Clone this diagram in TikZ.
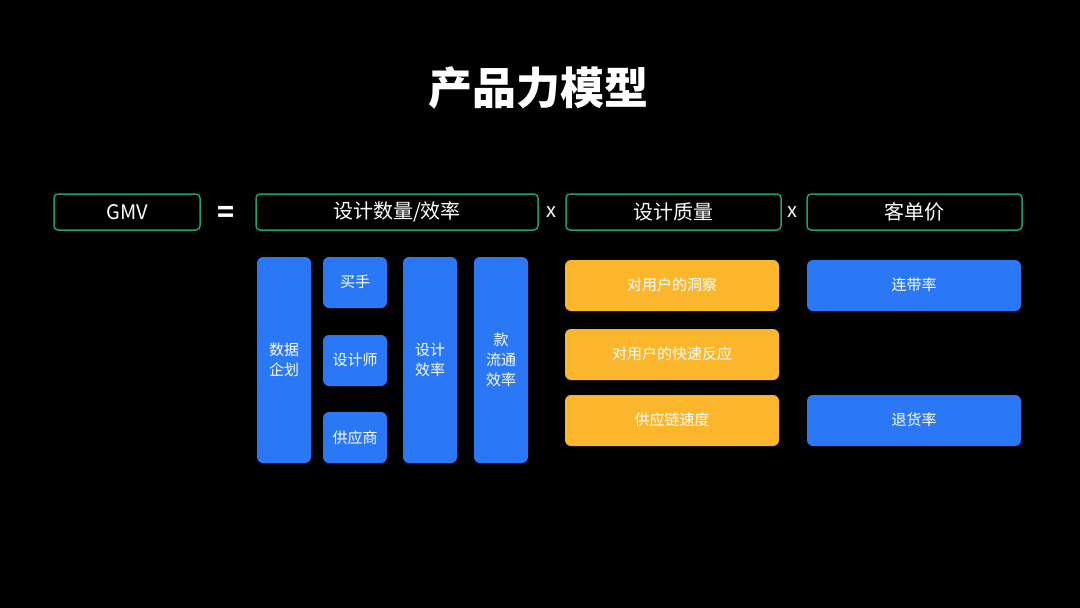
\documentclass[tikz,border=0pt]{standalone}
\usepackage{fontspec}
\setmainfont{Noto Sans CJK SC}
\begin{document}
\begin{tikzpicture}[x=1pt,y=-1pt,
 hdr/.style={draw=hgreen,line width=1.5pt,rounded corners=4pt,fill=black,text=white,font=\fontsize{20}{22}\selectfont},
 bb/.style={fill=bblue,rounded corners=6pt,text=white,font=\fontsize{15}{20}\selectfont,align=center},
 yb/.style={fill=yel,rounded corners=6pt,text=white,font=\fontsize{15}{20}\selectfont,align=center},
 op/.style={text=white,font=\bfseries\fontsize{28}{30}\selectfont}]
\definecolor{hgreen}{HTML}{1E9E7A}
\definecolor{bblue}{HTML}{2A78F6}
\definecolor{yel}{HTML}{FBB62B}
\fill[black] (0,0) rectangle (1080,608);
\useasboundingbox (0,0) rectangle (1080,608);
\node[text=white,font=\bfseries\fontsize{44}{48}\selectfont] (title) at (538,88) {产品力模型};
\path[hdr] (54,194) rectangle (200,230); \node[hdr,draw=none,fill=none] (gmv) at (127,212) {GMV};
\node[op] (eq) at (226,214) {=};
\path[hdr] (256,194) rectangle (538,230); \node[hdr,draw=none,fill=none] (h1) at (397,212) {设计数量/效率};
\node[op,font=\fontsize{20}{22}\selectfont] (x1) at (551,212) {x};
\path[hdr] (566,194) rectangle (781,230); \node[hdr,draw=none,fill=none] (h2) at (673,212) {设计质量};
\node[op,font=\fontsize{20}{22}\selectfont] (x2) at (792,212) {x};
\path[hdr] (807,194) rectangle (1022,230); \node[hdr,draw=none,fill=none] (h3) at (914,212) {客单价};
\path[bb] (257,257) rectangle (311,463); \node[bb,fill=none] (a1) at (284,360) {数据\\企划};
\path[bb] (323,257) rectangle (387,308); \node[bb,fill=none] (a2) at (355,282) {买手};
\path[bb] (323,335) rectangle (387,386); \node[bb,fill=none] (a3) at (355,360) {设计师};
\path[bb] (323,412) rectangle (387,463); \node[bb,fill=none] (a4) at (355,438) {供应商};
\path[bb] (403,257) rectangle (457,463); \node[bb,fill=none] (a5) at (430,360) {设计\\效率};
\path[bb] (474,257) rectangle (528,463); \node[bb,fill=none] (a6) at (501,360) {款\\流通\\效率};
\path[yb] (565,260) rectangle (779,311); \node[yb,fill=none] (b1) at (672,285) {对用户的洞察};
\path[yb] (565,329) rectangle (779,380); \node[yb,fill=none] (b2) at (672,354) {对用户的快速反应};
\path[yb] (565,395) rectangle (779,446); \node[yb,fill=none] (b3) at (672,420) {供应链速度};
\path[bb] (807,260) rectangle (1021,311); \node[bb,fill=none] (c1) at (914,285) {连带率};
\path[bb] (807,395) rectangle (1021,446); \node[bb,fill=none] (c2) at (914,420) {退货率};
\end{tikzpicture}
\end{document}
